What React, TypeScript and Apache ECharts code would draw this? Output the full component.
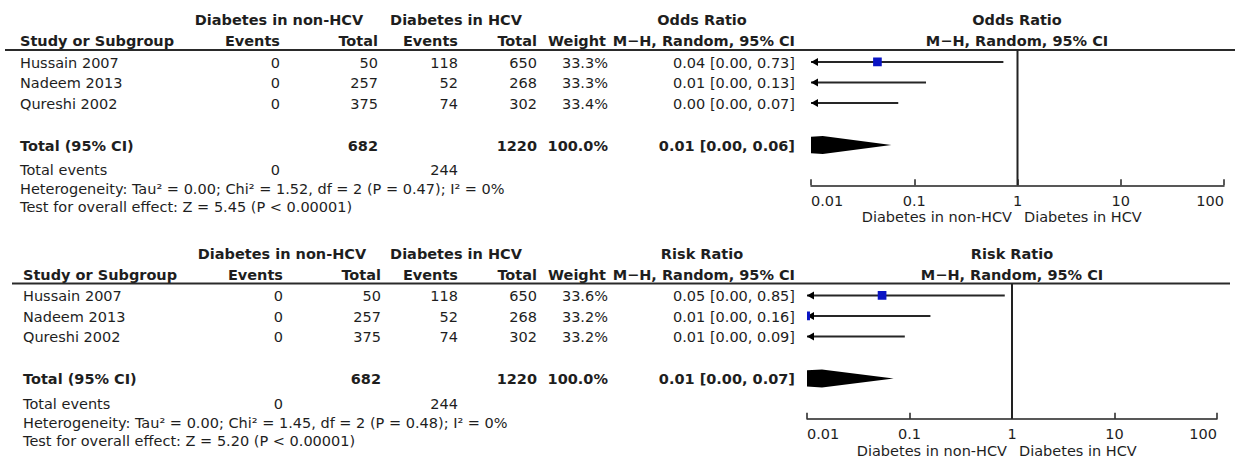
import React, { useEffect, useRef } from "react";
import * as echarts from "echarts";

// ---------- data ----------
const studies = ["Hussain 2007", "Nadeem 2013", "Qureshi 2002"];
const nonHcvEvents = [0, 0, 0];
const nonHcvTotal = [50, 257, 375];
const hcvEvents = [118, 52, 74];
const hcvTotal = [650, 268, 302];

// Odds ratio panel
const orWeight = [33.3, 33.3, 33.4];
const orEst = [0.044, 0.007, 0.004];
const orLow = [0.002, 0.0004, 0.0002];
const orHigh = [0.73, 0.13, 0.07];
const orTotal = [0.013, 0.0005, 0.06]; // est, low, high
const orHet = { tau2: "0.00", chi2: "1.52", df: 2, p: "0.47", i2: "0" };
const orZ = { z: "5.45", p: "< 0.00001" };

// Risk ratio panel
const rrWeight = [33.6, 33.2, 33.2];
const rrEst = [0.054, 0.0097, 0.0075];
const rrLow = [0.003, 0.0006, 0.0004];
const rrHigh = [0.85, 0.16, 0.09];
const rrTotal = [0.014, 0.0005, 0.07];
const rrHet = { tau2: "0.00", chi2: "1.45", df: 2, p: "0.48", i2: "0" };
const rrZ = { z: "5.20", p: "< 0.00001" };

const tickValues = [0.01, 0.1, 1, 10, 100];

const FONT = '"DejaVu Sans", Verdana, sans-serif';
const FS = 14.5;
const TXT = "#1e1e1e";

const ROW_Y0 = -0.58;
const ROW_Y1 = 6.02;
const TOTAL_ROW = 4.05;

function sum(a: number[]) {
  return a.reduce((s, v) => s + v, 0);
}

function ci(e: number, l: number, h: number) {
  return `${e.toFixed(2)} [${l.toFixed(2)}, ${h.toFixed(2)}]`;
}

function txt(x: number, y: number, s: string, align: string, bold = false, color = TXT): any {
  return {
    type: "text",
    x,
    y,
    silent: true,
    style: {
      text: s,
      fill: color,
      fontSize: FS,
      fontFamily: FONT,
      fontWeight: bold ? "bold" : "normal",
      textAlign: align,
      textVerticalAlign: "middle",
    },
  };
}

interface PanelCfg {
  dy: number;
  sx: number;
  lineX1: number;
  lineX2: number;
  x1: number;
  title: string;
  weight: number[];
  est: number[];
  low: number[];
  high: number[];
  total: number[];
  het: any;
  z: any;
}

function panelGraphics(c: PanelCfg) {
  const g: any[] = [];
  const rowY = (r: number) => c.dy + 62.5 + 20.5 * r;
  const colStudy = 20 + c.sx;
  const colE1 = 280 + c.sx;
  const colT1 = 378 + c.sx;
  const colE2 = 458;
  const colT2 = 537;
  const colW = 606;
  const colCI = 795;
  g.push(txt(279 + c.sx, c.dy + 20, "Diabetes in non-HCV", "center", true));
  g.push(txt(456, c.dy + 20, "Diabetes in HCV", "center", true));
  g.push(txt(702, c.dy + 20, c.title, "center", true));
  g.push(txt(c.x1, c.dy + 20, c.title, "center", true));
  const h2 = c.dy + 41;
  g.push(txt(colStudy, h2, "Study or Subgroup", "left", true));
  g.push(txt(colE1, h2, "Events", "right", true));
  g.push(txt(colT1, h2, "Total", "right", true));
  g.push(txt(colE2, h2, "Events", "right", true));
  g.push(txt(colT2, h2, "Total", "right", true));
  g.push(txt(colW, h2, "Weight", "right", true));
  g.push(txt(colCI, h2, "M\u2212H, Random, 95% CI", "right", true));
  g.push(txt(c.x1, h2, "M\u2212H, Random, 95% CI", "center", true));
  g.push({
    type: "line",
    silent: true,
    shape: { x1: c.lineX1, y1: c.dy + 50, x2: c.lineX2, y2: c.dy + 50 },
    style: { stroke: "#2a2a2a", lineWidth: 2 },
  });
  studies.forEach((s, i) => {
    const y = rowY(i);
    g.push(txt(colStudy, y, s, "left"));
    g.push(txt(colE1, y, String(nonHcvEvents[i]), "right"));
    g.push(txt(colT1, y, String(nonHcvTotal[i]), "right"));
    g.push(txt(colE2, y, String(hcvEvents[i]), "right"));
    g.push(txt(colT2, y, String(hcvTotal[i]), "right"));
    g.push(txt(colW + 2, y, c.weight[i].toFixed(1) + "%", "right"));
    g.push(txt(colCI, y, ci(c.est[i], c.low[i], c.high[i]), "right"));
  });
  const ty = rowY(TOTAL_ROW);
  g.push(txt(colStudy, ty, "Total (95% CI)", "left", true));
  g.push(txt(colT1, ty, String(sum(nonHcvTotal)), "right", true));
  g.push(txt(colT2, ty, String(sum(hcvTotal)), "right", true));
  g.push(txt(colW + 2, ty, sum(c.weight).toFixed(1) + "%", "right", true));
  g.push(txt(colCI, ty, ci(c.total[0], c.total[1], c.total[2]), "right", true));
  const ey = c.dy + 170;
  g.push(txt(colStudy, ey, "Total events", "left"));
  g.push(txt(colE1, ey, String(sum(nonHcvEvents)), "right"));
  g.push(txt(colE2, ey, String(sum(hcvEvents)), "right"));
  g.push(
    txt(
      colStudy,
      c.dy + 189,
      `Heterogeneity: Tau\u00B2 = ${c.het.tau2}; Chi\u00B2 = ${c.het.chi2}, df = ${c.het.df} (P = ${c.het.p}); I\u00B2 = ${c.het.i2}%`,
      "left"
    )
  );
  g.push(txt(colStudy, c.dy + 207, `Test for overall effect: Z = ${c.z.z} (P ${c.z.p})`, "left"));
  g.push(txt(c.x1 - 5, c.dy + 217, "Diabetes in non-HCV", "right"));
  g.push(txt(c.x1 + 7, c.dy + 217, "Diabetes in HCV", "left"));
  return g;
}

function forestData(est: number[], low: number[], high: number[], weight: number[], total: number[]) {
  const d: number[][] = est.map((e, i) => [e, low[i], high[i], i, weight[i], 0]);
  d.push([total[0], total[1], total[2], TOTAL_ROW, 100, 1]);
  return d;
}

function renderForest(params: any, api: any) {
  const est = api.value(0);
  const lo = api.value(1);
  const hi = api.value(2);
  const row = api.value(3);
  const w = api.value(4);
  const kind = api.value(5);
  const cs = params.coordSys;
  const left = cs.x;
  const right = cs.x + cs.width;
  const pE = api.coord([est, row]);
  const pL = api.coord([lo, row]);
  const pH = api.coord([hi, row]);
  const y = pE[1];
  if (kind === 1) {
    const h = 9;
    return {
      type: "polygon",
      shape: {
        points: [
          [pL[0], y],
          [pE[0], y - h],
          [pH[0], y],
          [pE[0], y + h],
        ],
      },
      style: { fill: "#000" },
    };
  }
  const children: any[] = [];
  const x1 = Math.max(pL[0], left);
  const x2 = Math.min(pH[0], right);
  children.push({
    type: "line",
    shape: { x1, y1: y, x2, y2: y },
    style: { stroke: "#262626", lineWidth: 2 },
  });
  if (pL[0] < left) {
    children.push({
      type: "polygon",
      shape: {
        points: [
          [left, y],
          [left + 7, y - 4],
          [left + 7, y + 4],
        ],
      },
      style: { fill: "#000" },
    });
  }
  const s = 1.5 * Math.sqrt(w);
  children.push({
    type: "rect",
    shape: { x: pE[0] - s / 2, y: y - s / 2, width: s, height: s },
    style: { fill: "#0a14c4" },
  });
  return { type: "group", children };
}

function axisCfg(gridIndex: number) {
  return {
    type: "log",
    logBase: 10,
    gridIndex,
    min: tickValues[0],
    max: tickValues[tickValues.length - 1],
    axisLine: { show: true, onZero: false, lineStyle: { color: "#222", width: 1.5 } },
    axisTick: { show: true, inside: true, length: 6, lineStyle: { color: "#222", width: 1.5 } },
    minorTick: { show: false },
    splitLine: { show: false },
    axisLabel: {
      color: TXT,
      fontSize: FS,
      fontFamily: FONT,
      margin: 8,
      alignMinLabel: "left",
      alignMaxLabel: "right",
      formatter: (v: number) => String(+Number(v).toPrecision(1)),
    },
  };
}

function yCfg(gridIndex: number) {
  return {
    type: "value",
    gridIndex,
    inverse: true,
    min: ROW_Y0,
    max: ROW_Y1,
    show: false,
    splitLine: { show: false },
  };
}

export default function App() {
  const ref = useRef<HTMLDivElement>(null);
  useEffect(() => {
    if (!ref.current) return;
    const chart = echarts.init(ref.current, undefined, { renderer: "svg" });
    const top: PanelCfg = {
      dy: 0,
      sx: 0,
      lineX1: 5,
      lineX2: 1235,
      x1: 1017,
      title: "Odds Ratio",
      weight: orWeight,
      est: orEst,
      low: orLow,
      high: orHigh,
      total: orTotal,
      het: orHet,
      z: orZ,
    };
    const bottom: PanelCfg = {
      dy: 233.5,
      sx: 3,
      lineX1: 12,
      lineX2: 1230,
      x1: 1012,
      title: "Risk Ratio",
      weight: rrWeight,
      est: rrEst,
      low: rrLow,
      high: rrHigh,
      total: rrTotal,
      het: rrHet,
      z: rrZ,
    };
    const gh = (ROW_Y1 - ROW_Y0) * 20.5;
    chart.setOption({
      animation: false,
      backgroundColor: "#fff",
      grid: [
        { left: 811, top: 50, width: 413, height: gh },
        { left: 807, top: 283.5, width: 410, height: gh },
      ],
      xAxis: [axisCfg(0), axisCfg(1)],
      yAxis: [yCfg(0), yCfg(1)],
      graphic: [...panelGraphics(top), ...panelGraphics(bottom)],
      series: [
        {
          type: "line",
          xAxisIndex: 0,
          yAxisIndex: 0,
          data: [
            [1, ROW_Y0],
            [1, ROW_Y1],
          ],
          symbol: "none",
          silent: true,
          lineStyle: { color: "#222", width: 2 },
          z: 1,
        },
        {
          type: "line",
          xAxisIndex: 1,
          yAxisIndex: 1,
          data: [
            [1, ROW_Y0],
            [1, ROW_Y1],
          ],
          symbol: "none",
          silent: true,
          lineStyle: { color: "#222", width: 2 },
          z: 1,
        },
        {
          type: "custom",
          xAxisIndex: 0,
          yAxisIndex: 0,
          clip: true,
          silent: true,
          renderItem: renderForest,
          data: forestData(orEst, orLow, orHigh, orWeight, orTotal),
          z: 3,
        },
        {
          type: "custom",
          xAxisIndex: 1,
          yAxisIndex: 1,
          clip: true,
          silent: true,
          renderItem: renderForest,
          data: forestData(rrEst, rrLow, rrHigh, rrWeight, rrTotal),
          z: 3,
        },
      ],
    });
    return () => chart.dispose();
  }, []);
  return (
    <div
      ref={ref}
      style={{ position: "fixed", left: 0, top: 0, width: 1235, height: 457, background: "#fff" }}
    />
  );
}
